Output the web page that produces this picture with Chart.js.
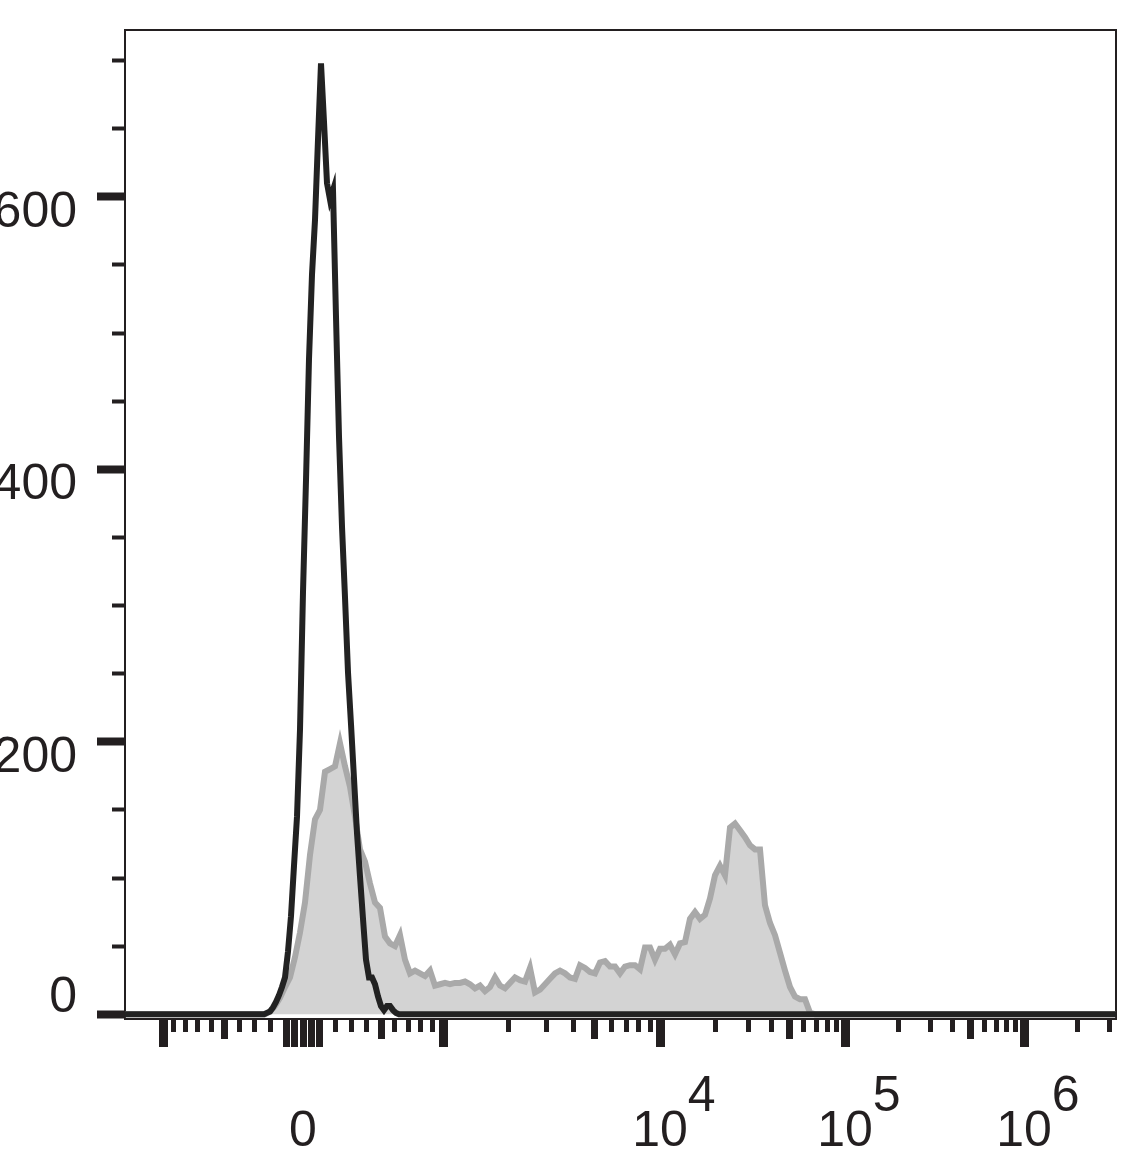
<!DOCTYPE html>
<html>
<head>
<meta charset="utf-8">
<title>Histogram</title>
<script src="https://cdn.jsdelivr.net/npm/chart.js@4.4.0/dist/chart.umd.min.js"></script>
<style>
  html, body { margin: 0; padding: 0; background: #ffffff; }
  #wrap { width: 1145px; height: 1170px; }
</style>
</head>
<body>
<div id="wrap"><canvas id="histChart" width="1145" height="1170"></canvas></div>
<script>
// histogram bins are in display channels (0..991 across the plot width)
var blackStart = 136, blackStep = 3;
var blackCounts = [0, 0, 1, 2, 5, 9, 14, 20, 27, 46, 72, 109, 145, 209, 310, 392,
  481, 543, 583, 642, 698, 655, 610, 598, 605, 512, 424, 358, 306, 251, 213, 173,
  133, 101, 70, 40, 27, 27, 22, 13, 6, 3, 6, 6, 3, 1, 0, 0];

var greyStart = 140, greyStep = 5;
var greyCounts = [0, 2, 6, 12, 20, 27, 42, 60, 82, 117, 143, 150, 178, 180, 182, 199,
  182, 167, 145, 121, 112, 96, 82, 78, 57, 52, 50, 58, 40, 30, 32, 30,
  28, 32, 21, 22, 23, 22, 23, 23, 24, 22, 19, 21, 17, 20, 27, 21,
  19, 23, 27, 25, 24, 34, 16, 18, 22, 26, 30, 32, 30, 27, 26, 36,
  34, 31, 30, 38, 39, 35, 35, 30, 35, 36, 36, 33, 49, 49, 40, 48,
  48, 51, 44, 52, 53, 70, 75, 70, 73, 85, 102, 109, 102, 137, 140, 135,
  130, 124, 121, 121, 80, 67, 58, 45, 32, 20, 13, 11, 11, 1, 0];

// y axis
var yMajorTicks = [0, 200, 400, 600];
var yMinorTicks = [50, 100, 150, 250, 300, 350, 450, 500, 550, 650, 700];

// x axis (fluorescence values)
var xLongTicks = [-1000, 1000, 1e4, 1e5, 1e6];
var xZeroTicks = [-100, -50, 0, 50, 100];
var xMidTicks = [-500, 500, 5e3, 5e4, 5e5];
var xShortTicks = [-900, -800, -700, -600, -400, -300, -200, 200, 300, 400, 600, 700, 800, 900,
  2e3, 3e3, 4e3, 6e3, 7e3, 8e3, 9e3, 2e4, 3e4, 4e4, 6e4, 7e4, 8e4, 9e4,
  2e5, 3e5, 4e5, 6e5, 7e5, 8e5, 9e5, 2e6, 3e6];
var xLabelValues = [0, 1e4, 1e5, 1e6];
var xLabelTexts = [['', '0'], ['      4', '10'], ['      5', '10'], ['      6', '10']];

// biexponential-ish display transform
var zeroChannel = 178, linearHalf = 140, linearWidth = 850;
var decadeValues = [1e3, 1e4, 1e5, 1e6, 1e7];
var decadeChannels = [318, 535, 720, 899, 1078];

function toChannel(v) {
  var a = Math.abs(v), s = v < 0 ? -1 : 1, d;
  if (a <= 1000) {
    d = linearHalf * Math.asinh(a / linearWidth) / Math.asinh(1000 / linearWidth);
  } else {
    var i = 0;
    while (i < decadeValues.length - 2 && a >= decadeValues[i + 1]) i++;
    var f = Math.log10(a / decadeValues[i]);
    d = decadeChannels[i] - zeroChannel + f * (decadeChannels[i + 1] - decadeChannels[i]);
  }
  return zeroChannel + s * d;
}

function toPoints(start, step, counts) {
  var pts = [{x: 0, y: 0}];
  counts.forEach(function (c, i) { pts.push({x: start + i * step, y: c}); });
  pts.push({x: 991, y: 0});
  return pts;
}

var xTicks = [];
function pushTicks(vals, kind) {
  vals.forEach(function (v) {
    var li = xLabelValues.indexOf(v);
    xTicks.push({value: toChannel(v), kind: kind, lbl: li >= 0 ? xLabelTexts[li] : ''});
  });
}
pushTicks(xShortTicks, 'minor');
pushTicks(xMidTicks, 'mid');
pushTicks(xZeroTicks, 'zero');
pushTicks(xLongTicks, 'major');
xTicks.sort(function (a, b) { return a.value - b.value; });

var yTicks = [];
yMajorTicks.forEach(function (v) {
  yTicks.push({value: v, kind: 'major', lbl: v === 0 ? ['0', ''] : ['', String(v)]});
});
yMinorTicks.forEach(function (v) { yTicks.push({value: v, kind: 'minor', lbl: ''}); });
yTicks.sort(function (a, b) { return a.value - b.value; });

var ink = '#231f20';
var xTickStyle = {
  major: {w: 9, dash: []},
  zero: {w: 7, dash: []},
  mid: {w: 7, dash: [19, 60]},
  minor: {w: 5, dash: [12, 60]}
};
var yTickStyle = {
  major: {w: 8, dash: []},
  minor: {w: 4, dash: [0, 15, 60, 60]}
};
var fontFamily = "'Liberation Sans', Arial, Helvetica, sans-serif";

function noPadding(scale) {
  scale.paddingTop = 0;
  scale.paddingBottom = 0;
  scale.paddingLeft = 0;
  scale.paddingRight = 0;
}

var ctx = document.getElementById('histChart').getContext('2d');
var chart = new Chart(ctx, {
  type: 'line',
  data: {
    datasets: [{
      label: 'control',
      data: toPoints(blackStart, blackStep, blackCounts),
      borderColor: '#222222',
      borderWidth: 6,
      fill: false,
      pointRadius: 0,
      tension: 0,
      order: 0
    }, {
      label: 'stained',
      data: toPoints(greyStart, greyStep, greyCounts),
      borderColor: '#a9a9a9',
      backgroundColor: '#d3d3d3',
      borderWidth: 6,
      fill: 'origin',
      pointRadius: 0,
      tension: 0,
      order: 1
    }]
  },
  options: {
    responsive: false,
    animation: false,
    devicePixelRatio: 1,
    layout: { padding: 0 },
    plugins: {
      legend: { display: false },
      tooltip: { enabled: false }
    },
    scales: {
      x: {
        type: 'linear',
        position: 'bottom',
        min: 0,
        max: 991,
        afterBuildTicks: function (scale) { scale.ticks = xTicks.map(function (t) { return Object.assign({}, t); }); },
        afterFit: function (scale) { scale.height = 151; noPadding(scale); },
        border: { display: true, color: ink, width: 2 },
        grid: {
          drawOnChartArea: false,
          drawTicks: true,
          tickLength: 28,
          tickColor: ink,
          tickWidth: function (c) { return c.tick ? xTickStyle[c.tick.kind].w : 0; },
          tickBorderDash: function (c) { return c.tick ? xTickStyle[c.tick.kind].dash : []; }
        },
        ticks: {
          autoSkip: false,
          maxRotation: 0,
          padding: 33,
          color: ink,
          font: { family: fontFamily, size: 50, lineHeight: '35px' },
          callback: function (value, index, ticks) { return ticks[index].lbl; }
        }
      },
      x2: {
        type: 'linear',
        position: 'top',
        min: 0,
        max: 991,
        afterFit: function (scale) { scale.height = 30; noPadding(scale); },
        border: { display: true, color: ink, width: 2 },
        grid: { drawOnChartArea: false, drawTicks: false },
        ticks: { display: false }
      },
      y: {
        type: 'linear',
        position: 'left',
        min: -3.5,
        max: 722.5,
        afterBuildTicks: function (scale) { scale.ticks = yTicks.map(function (t) { return Object.assign({}, t); }); },
        afterFit: function (scale) { scale.width = 125; noPadding(scale); },
        border: { display: true, color: ink, width: 2 },
        grid: {
          drawOnChartArea: false,
          drawTicks: true,
          tickLength: 28,
          tickColor: ink,
          tickWidth: function (c) { return c.tick ? yTickStyle[c.tick.kind].w : 0; },
          tickBorderDash: function (c) { return c.tick ? yTickStyle[c.tick.kind].dash : []; }
        },
        ticks: {
          autoSkip: false,
          padding: 20,
          color: ink,
          font: { family: fontFamily, size: 50, lineHeight: '32px' },
          callback: function (value, index, ticks) { return ticks[index].lbl; }
        }
      },
      y2: {
        type: 'linear',
        position: 'right',
        min: -3.5,
        max: 722.5,
        afterFit: function (scale) { scale.width = 29; noPadding(scale); },
        border: { display: true, color: ink, width: 2 },
        grid: { drawOnChartArea: false, drawTicks: false },
        ticks: { display: false }
      }
    }
  }
});
</script>
</body>
</html>
